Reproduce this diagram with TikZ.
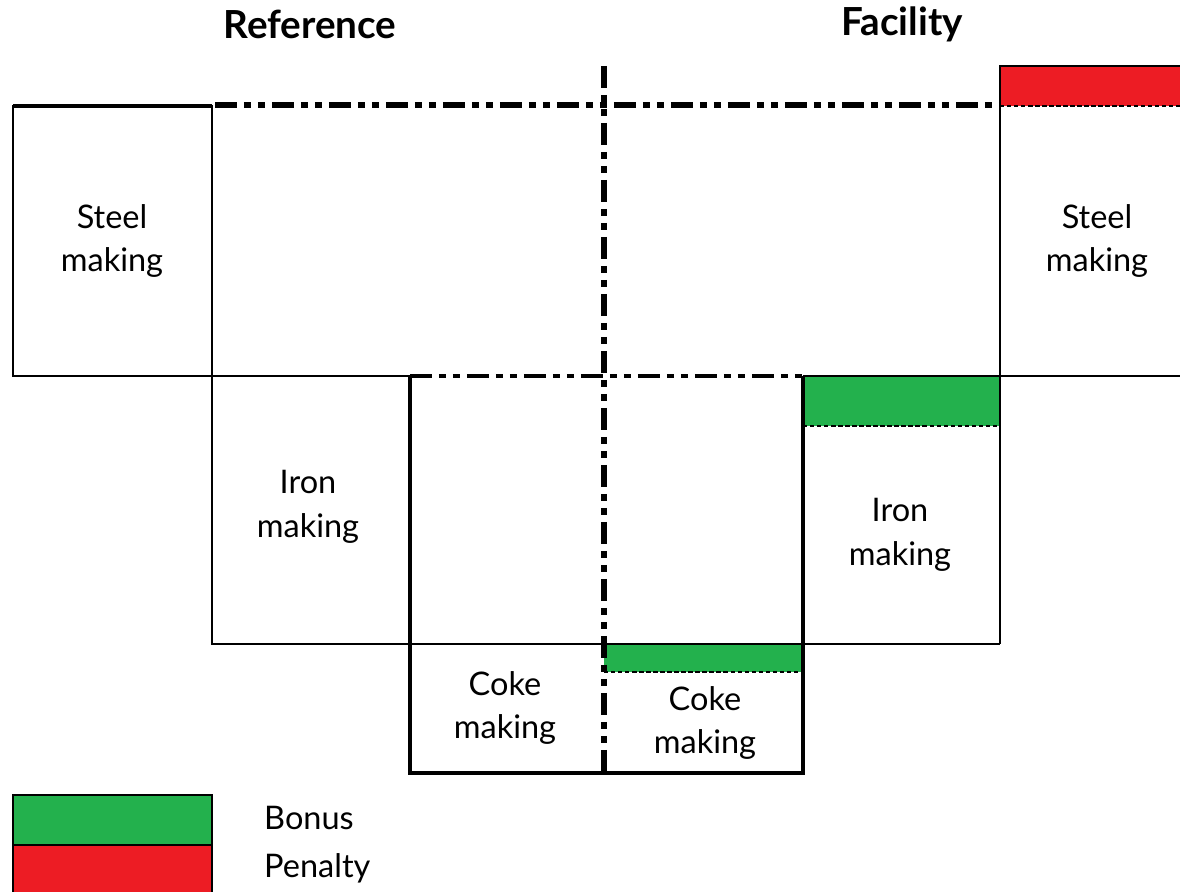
\documentclass[tikz,border=0pt]{standalone}
\usepackage{fontspec}
\setmainfont{Lato}
\definecolor{bonusgreen}{RGB}{35,177,77}
\definecolor{penaltyred}{RGB}{237,28,36}
\tikzset{
  thin line/.style={line width=1.1pt},
  thick line/.style={line width=2.2pt},
  dashdot line/.style={line width=3pt,dash pattern=on 0.44cm off 0.14cm on 0.14cm off 0.14cm on 0.14cm off 0.14cm},
  fine dash/.style={line width=0.9pt,dash pattern=on 2.5pt off 1.5pt},
  label/.style={align=center,font=\fontsize{18.5}{25}\selectfont},
  head/.style={font=\fontsize{22}{26}\selectfont\bfseries}
}
\begin{document}
\begin{tikzpicture}[x=0.02cm,y=-0.02cm]
\useasboundingbox (0,0) rectangle (1180,892);
\clip (0,0) rectangle (1180,892);
%Headings
\node[head] (ref) at (310,24) {Reference};
\node[head] (fac) at (902,24) {Facility};

%Bonus and penalty bars
\fill[penaltyred] (1000,66) rectangle (1185,106);
\draw[thin line] (1000,106) -- (1000,66) -- (1185,66);
\draw[fine dash] (1000,106) -- (1185,106);
\fill[bonusgreen] (803,376) rectangle (1000,426);
\draw[fine dash] (803,426) -- (1000,426);
\fill[bonusgreen] (604,644) rectangle (803,672);
\draw[fine dash] (604,672) -- (803,672);

%Reference side
\draw[thin line] (13,106) rectangle (212,376);
\draw[thick line] (13,106) -- (212,106);
\draw[thin line] (212,376) -- (410,376);
\draw[thin line] (212,376) -- (212,644) -- (1000,644);
\draw[thick line] (410,376) -- (410,773) -- (604,773);

%Facility side
\draw[thin line] (1000,106) -- (1000,644);
\draw[thin line] (1000,376) -- (1185,376);
\draw[thick line] (803,376) -- (803,773) -- (604,773);
\draw[thin line] (803,376) -- (1000,376);

%Dash-dot boundaries
\draw[dashdot line] (215,105) -- (1000,105);
\draw[dashdot line,line width=2.4pt] (410,376) -- (803,376);
\draw[dashdot line] (604,66) -- (604,773);

%Labels
\node[label] (steelref) at (112,241) {Steel\\making};
\node[label] (steelfac) at (1097,241) {Steel\\making};
\node[label] (ironref) at (308,507) {Iron\\making};
\node[label] (ironfac) at (900,535) {Iron\\making};
\node[label] (cokeref) at (505,708) {Coke\\making};
\node[label] (cokefac) at (705,723) {Coke\\making};

%Legend
\draw[thin line,fill=bonusgreen] (13,795) rectangle (212,845);
\draw[thin line,fill=penaltyred] (13,845) rectangle (212,900);
\node[label,anchor=west] (bonus) at (258,818) {Bonus};
\node[label,anchor=west] (penalty) at (258,868) {Penalty};
\end{tikzpicture}
\end{document}
